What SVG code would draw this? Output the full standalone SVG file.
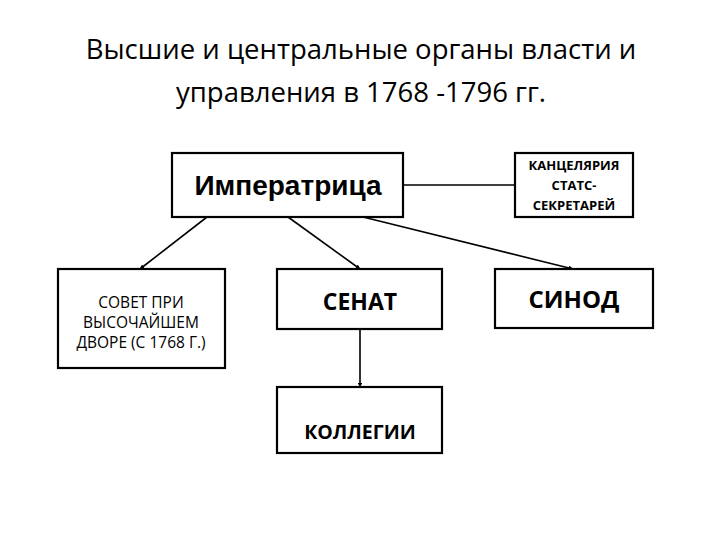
<svg xmlns="http://www.w3.org/2000/svg" width="720" height="540" viewBox="0 0 720 540">
<defs>
<style>
.box{fill:#fff;stroke:#000;stroke-width:2.2}
.ln{stroke:#000;stroke-width:1.6;fill:none}
.t{font-family:"Open Sans","Noto Sans","DejaVu Sans",sans-serif;fill:#000;text-anchor:middle}
.b{font-weight:bold}
.arial{font-family:"Liberation Sans",Arial,sans-serif}
</style>
<marker id="ah" viewBox="0 0 6 6" refX="5.5" refY="3" markerWidth="3" markerHeight="3" orient="auto"><path d="M0,0 L6,3 L0,6 z" fill="#000"/></marker>
</defs>
<rect width="720" height="540" fill="#fff"/>
<g id="title">
<text class="t" x="361" y="59" font-size="27.5">Высшие и центральные органы власти и</text>
<text class="t" x="361" y="102" font-size="27.5">управления в 1768 -1796 гг.</text>
</g>
<g id="connectors">
<line class="ln" x1="207" y1="217" x2="140" y2="269" marker-end="url(#ah)"/>
<line class="ln" x1="288" y1="217" x2="360" y2="269" marker-end="url(#ah)"/>
<line class="ln" x1="363" y1="217" x2="573" y2="269" marker-end="url(#ah)"/>
<line class="ln" x1="403" y1="185" x2="515" y2="185"/>
<line class="ln" x1="360" y1="329" x2="360" y2="387" marker-end="url(#ah)"/>
</g>
<g id="empress">
<rect class="box" x="172" y="153" width="231" height="64"/>
<text class="t b arial" x="288" y="195" font-size="28">Императрица</text>
</g>
<g id="chancellery">
<rect class="box" x="515" y="153" width="118" height="64"/>
<text class="t b" x="574" y="170" font-size="13">КАНЦЕЛЯРИЯ</text>
<text class="t b" x="574" y="190" font-size="13">СТАТС-</text>
<text class="t b" x="574" y="210" font-size="13">СЕКРЕТАРЕЙ</text>
</g>
<g id="council">
<rect class="box" x="58" y="269" width="167" height="99"/>
<text class="t" x="141" y="308" font-size="15.5">СОВЕТ ПРИ</text>
<text class="t" x="141" y="328" font-size="15.5">ВЫСОЧАЙШЕМ</text>
<text class="t" x="141" y="348" font-size="15.5">ДВОРЕ (С 1768 Г.)</text>
</g>
<g id="senate">
<rect class="box" x="277" y="269" width="165" height="60"/>
<text class="t b" x="360" y="310" font-size="23">СЕНАТ</text>
</g>
<g id="synod">
<rect class="box" x="495" y="269" width="158" height="59"/>
<text class="t b" x="574" y="308" font-size="24">СИНОД</text>
</g>
<g id="colleges">
<rect class="box" x="277" y="387" width="165" height="66"/>
<text class="t b" x="360" y="439" font-size="19.5">КОЛЛЕГИИ</text>
</g>
</svg>
